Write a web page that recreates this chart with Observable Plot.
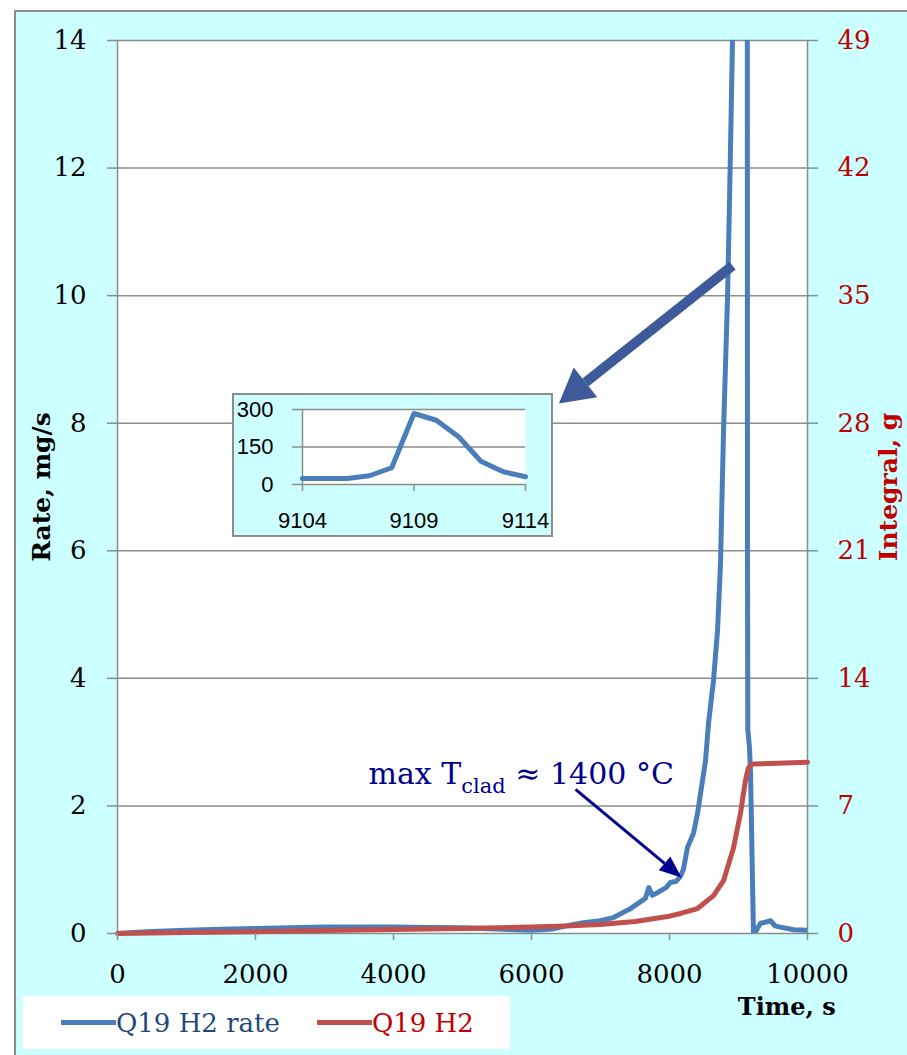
<!DOCTYPE html>
<html>
<head>
<meta charset="utf-8">
<script src="https://cdn.jsdelivr.net/npm/d3@7"></script>
<script src="https://cdn.jsdelivr.net/npm/@observablehq/plot@0.6"></script>
<style>
  body { margin: 0; background: #fff; }
  #wrap { position: relative; width: 907px; height: 1055px; overflow: hidden; }
  #bg { position: absolute; left: 14px; top: 10px; width: 900px; height: 1060px; background: #ccffff;
        border-left: 2px solid #8c8c8c; border-top: 2px solid #8c8c8c; }
  #chart { position: absolute; left: 0; top: 0; }
  #inset { position: absolute; left: 232px; top: 393px; width: 317px; height: 140px; background: #ccffff;
           border: 2px solid #8c8c8c; }
  #legend { position: absolute; left: 23px; top: 996px; width: 487px; height: 53px; background: #fff;
            display: flex; align-items: center; padding-left: 38px; box-sizing: border-box;
            font-family: "DejaVu Serif"; font-size: 26px; }
  #legend .sw { display: inline-block; width: 55px; height: 5px; }
</style>
</head>
<body>
<div id="wrap">
  <div id="bg"></div>
  <div id="chart"></div>
  <div id="inset"></div>
  <div id="legend"></div>
</div>
<script>
// ---------- data ----------
const seriesNames = ["Q19 H2 rate", "Q19 H2"];
const rateTime = [0, 500, 1000, 1500, 2000, 2500, 3000, 3500, 4000, 4500, 5000, 5500, 6000, 6300, 6500, 6750, 7000, 7188, 7435, 7650, 7700, 7750, 7826, 7950, 8014, 8100, 8159, 8200, 8261, 8348, 8406, 8449, 8522, 8565, 8638, 8696, 8739, 8783, 8841, 8870, 8913, 8960, 9050, 9104, 9109, 9114, 9128, 9130, 9135, 9160, 9175, 9200, 9217, 9260, 9319, 9400, 9464, 9530, 9609, 9800, 10000];
const rateValue = [0, 0.03, 0.05, 0.065, 0.08, 0.09, 0.1, 0.1, 0.1, 0.095, 0.09, 0.07, 0.05, 0.07, 0.12, 0.17, 0.2, 0.25, 0.39, 0.55, 0.72, 0.6, 0.64, 0.72, 0.8, 0.82, 0.9, 1.0, 1.35, 1.57, 1.88, 2.19, 2.71, 3.29, 3.97, 4.75, 5.8, 7.88, 9.97, 11.5, 14, 18, 22, 25, 285, 30, 14, 6, 3.2, 2.9, 2.5, 1.0, 0, 0.05, 0.16, 0.18, 0.2, 0.12, 0.1, 0.06, 0.05];
const h2Time = [0, 1000, 2000, 3000, 4000, 5000, 6000, 6500, 7000, 7500, 8000, 8159, 8406, 8638, 8783, 8928, 9029, 9101, 9140, 9180, 9217, 10000];
const h2Value = [0, 0.05, 0.1, 0.16, 0.22, 0.28, 0.36, 0.41, 0.5, 0.66, 0.95, 1.1, 1.37, 2.08, 2.9, 4.7, 6.6, 8.4, 9.05, 9.25, 9.3, 9.4];
const insetTime = [9104, 9105, 9106, 9107, 9108, 9109, 9110, 9111, 9112, 9113, 9114];
const insetRate = [24, 24, 24, 35, 67, 284, 257, 191, 93, 51, 31];

const xTicks = [0, 2000, 4000, 6000, 8000, 10000];
const yLeftTicks = [0, 2, 4, 6, 8, 10, 12, 14];
const yRightTicks = [0, 7, 14, 21, 28, 35, 42, 49];
const insetXTicks = [9104, 9109, 9114];
const insetYTicks = [0, 150, 300];

// annotations (data coordinates)
const bigArrow = [{x1: 8913, y1: 10.47, x2: 6783, y2: 8.64}];
const smallArrow = [{x1: 6638, y1: 2.26, x2: 7928, y2: 1.10}];
const noteText = "max Tclad ≈ 1400 °C";
const note = [{x: 3638, y: 2.50, text: noteText}];

// ---------- styles ----------
const gray = "#8c8c8c";
const blue = "#4a7ebb";
const red = "#c0504d";
const darkRed = "#c00000";
const ratio = 14 / 49;

const chart = Plot.plot({
  width: 907, height: 1055,
  marginLeft: 117, marginRight: 100, marginTop: 40, marginBottom: 122,
  x: {domain: [0, 10000]},
  y: {domain: [0, 14]},
  style: {background: "transparent", fontFamily: "DejaVu Serif", fontSize: "26px", overflow: "visible"},
  marks: [
    Plot.frame({fill: "white", stroke: null}),
    Plot.gridY(yLeftTicks.filter(d => d > 0), {stroke: gray, strokeOpacity: 1, strokeWidth: 1.5}),
    Plot.ruleX([0, 10000], {stroke: gray, strokeWidth: 1.5}),
    Plot.ruleY([0], {stroke: gray, strokeWidth: 1.5}),
    Plot.line(rateValue, {x: rateTime, y: rateValue, stroke: blue, strokeWidth: 5, strokeLinejoin: "round", clip: true}),
    Plot.line(h2Value, {x: h2Time, y: h2Value.map(v => v * ratio), stroke: red, strokeWidth: 5, strokeLinejoin: "round"}),
    Plot.link(bigArrow, {x1: "x1", y1: "y1", x2: "x2", y2: "y2", stroke: "#3d5a9a", strokeWidth: 10}),
    Plot.link(smallArrow, {x1: "x1", y1: "y1", x2: "x2", y2: "y2", stroke: "#000090", strokeWidth: 3}),
    Plot.text(note, {x: "x", y: "y", text: "text", textAnchor: "start", lineAnchor: "middle", fill: "#000090", fontSize: 30}),
    Plot.axisY(yLeftTicks, {anchor: "left", tickSize: 10, tickPadding: 21, stroke: gray, strokeWidth: 1.5, fill: "black", fontSize: 26, label: null, tickFormat: d => String(d)}),
    Plot.axisY(yRightTicks.map(d => d * ratio), {anchor: "right", tickSize: 10, tickPadding: 20, stroke: gray, strokeWidth: 1.5, fill: darkRed, fontSize: 26, label: null, tickFormat: d => String(Math.round(d / ratio))}),
    Plot.axisX(xTicks, {anchor: "bottom", tickSize: 7, tickPadding: 24, stroke: gray, strokeWidth: 1.5, fill: "black", fontSize: 26, label: null, tickFormat: d => String(d)}),
    Plot.text(["Rate, mg/s"], {frameAnchor: "left", text: d => d, rotate: -90, dx: -76, textAnchor: "middle", lineAnchor: "middle", fontWeight: "bold", fontSize: 25, fill: "black"}),
    Plot.text(["Integral, g"], {frameAnchor: "right", text: d => d, rotate: -90, dx: 81, textAnchor: "middle", lineAnchor: "middle", fontWeight: "bold", fontSize: 25, fill: darkRed}),
    Plot.text(["Time, s"], {x: [9700], frameAnchor: "bottom", text: d => d, dy: 74, textAnchor: "middle", lineAnchor: "middle", fontWeight: "bold", fontSize: 24, fill: "black"})
  ]
});
document.getElementById("chart").appendChild(chart);

// arrowheads (filled triangles) and subscript text
const svg = d3.select(chart);
const defs = svg.append("defs");
function addMarker(id, len, half, color) {
  defs.append("marker").attr("id", id).attr("markerUnits", "userSpaceOnUse")
    .attr("viewBox", `0 ${-half} ${len} ${2 * half}`).attr("refX", 0).attr("refY", 0)
    .attr("markerWidth", len).attr("markerHeight", 2 * half).attr("orient", "auto")
    .attr("overflow", "visible")
    .append("path").attr("d", `M0,${-half}L${len},0L0,${half}Z`).attr("fill", color).attr("stroke", "none");
}
addMarker("mBig", 34, 19, "#3d5a9a");
addMarker("mSmall", 22, 9, "#000090");
const linkGroups = svg.selectAll('g[aria-label="link"]').nodes();
if (linkGroups[0]) d3.select(linkGroups[0]).selectAll("path, line").attr("marker-end", "url(#mBig)").attr("stroke-linecap", "butt");
if (linkGroups[1]) d3.select(linkGroups[1]).selectAll("path, line").attr("marker-end", "url(#mSmall)").attr("stroke-linecap", "butt");
svg.selectAll("text").filter(function () { return this.textContent === noteText; }).each(function () {
  const t = d3.select(this);
  t.text(null);
  t.append("tspan").text("max T");
  t.append("tspan").attr("font-size", 21).attr("dy", 9).text("clad");
  t.append("tspan").attr("dy", -9).text(" ≈ 1400 °C");
});

// ---------- inset ----------
const inset = Plot.plot({
  width: 317, height: 140,
  marginLeft: 68, marginRight: 26, marginTop: 14, marginBottom: 51,
  x: {domain: [9104, 9114]},
  y: {domain: [0, 300]},
  style: {background: "transparent", fontFamily: "Liberation Sans", fontSize: "22px", overflow: "visible"},
  marks: [
    Plot.frame({fill: "white", stroke: null}),
    Plot.gridY([150, 300], {stroke: gray, strokeOpacity: 1, strokeWidth: 1.5}),
    Plot.ruleY([0], {stroke: gray, strokeWidth: 1.5}),
    Plot.ruleX([9104], {stroke: gray, strokeWidth: 1.5}),
    Plot.line(insetRate, {x: insetTime, y: insetRate, stroke: blue, strokeWidth: 5, strokeLinejoin: "round"}),
    Plot.axisY(insetYTicks, {anchor: "left", tickSize: 10, tickPadding: 19, stroke: gray, strokeWidth: 1.5, fill: "black", fontSize: 22, label: null, tickFormat: d => String(d)}),
    Plot.axisX(insetXTicks, {anchor: "bottom", tickSize: 7, tickPadding: 21, stroke: gray, strokeWidth: 1.5, fill: "black", fontSize: 22, label: null, tickFormat: d => String(d)})
  ]
});
document.getElementById("inset").appendChild(inset);

// ---------- legend ----------
const legend = document.getElementById("legend");
const legendColors = [blue, red];
const legendText = ["#1f497d", darkRed];
seriesNames.forEach((name, i) => {
  const sw = document.createElement("span");
  sw.className = "sw";
  sw.style.background = legendColors[i];
  if (i > 0) sw.style.marginLeft = "37px";
  const tx = document.createElement("span");
  tx.textContent = name;
  tx.style.color = legendText[i];
  legend.appendChild(sw);
  legend.appendChild(tx);
});
</script>
</body>
</html>
